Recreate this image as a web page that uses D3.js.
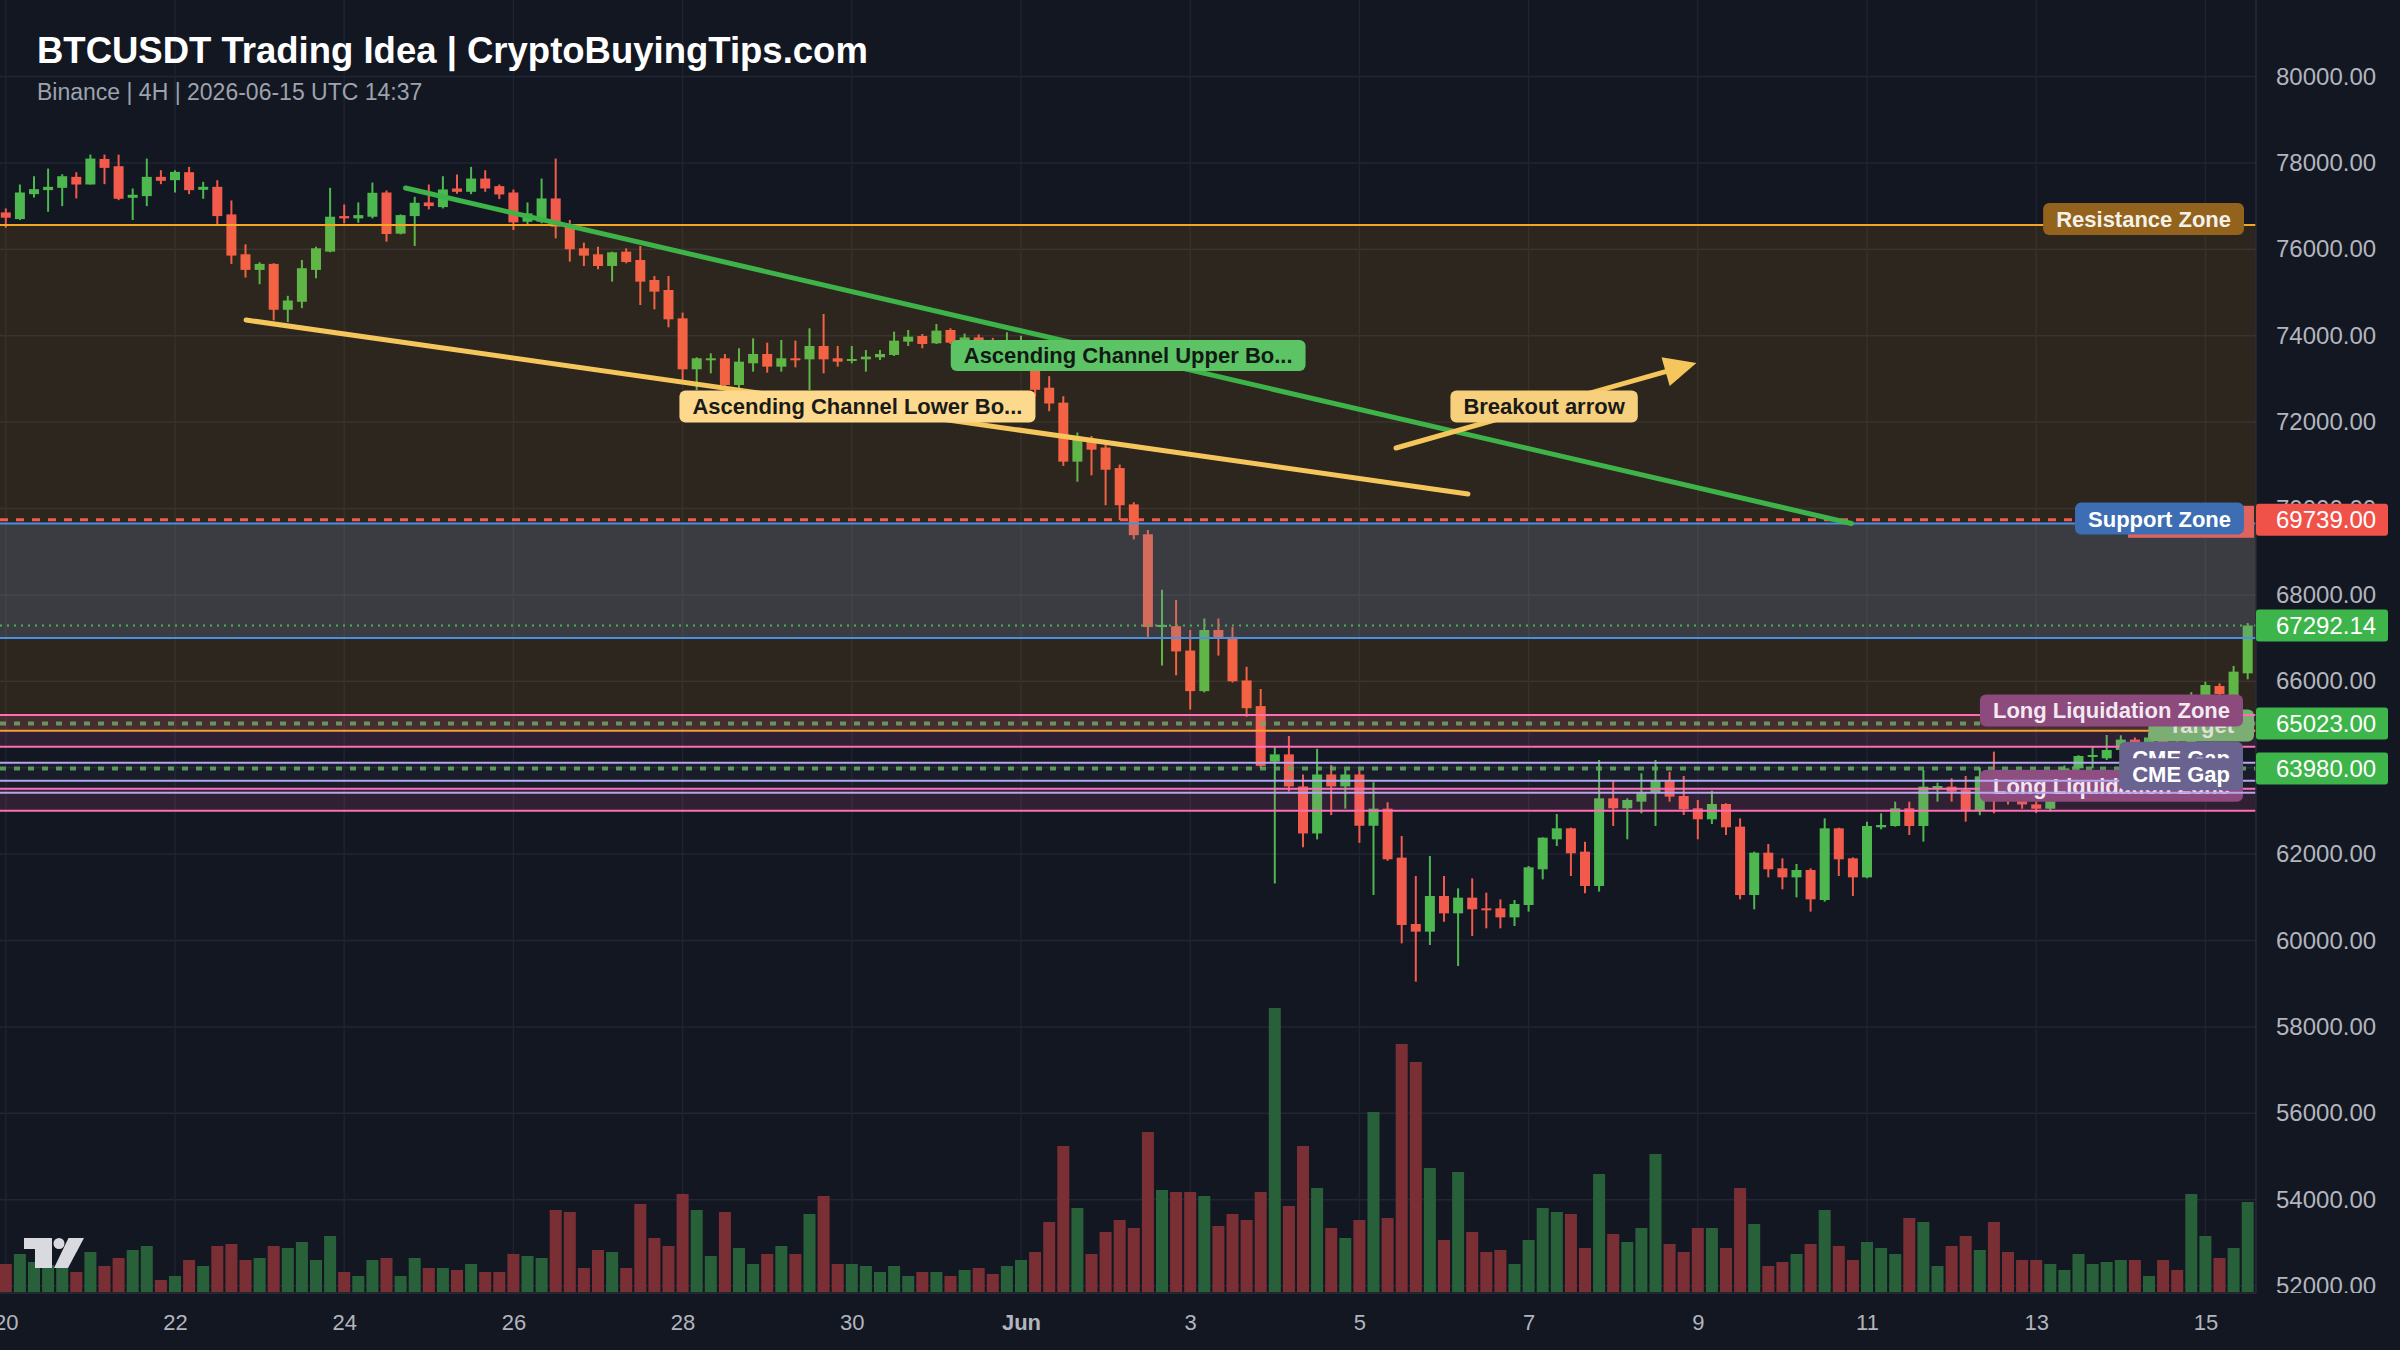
<!DOCTYPE html>
<html><head><meta charset="utf-8">
<script src="https://cdn.jsdelivr.net/npm/d3@7"></script>
<style>html,body{margin:0;padding:0;background:#131722;overflow:hidden}svg{display:block}</style>
</head><body><svg id="c" width="2400" height="1350"></svg>
<script>
// ---------------- DATA ----------------
const startTime = Date.UTC(2026, 4, 20, 0, 0); // first 4H candle, May 20 00:00 UTC
const opens  = [76854,76700,77277,77370,77423,77677,77500,78092,77923,77192,77231,77677,77600,77785,77377,77446,76808,75885,75523,75662,74600,74785,75523,75946,76769,76715,76754,77315,76362,76769,77085,76977,77408,77331,77638,77462,77315,76638,76638,77177,76540,76023,75884,75614,75946,75753,75290,75058,74402,73222,73438,73477,72859,73361,73577,73283,73477,73453,73762,73477,73422,73453,73500,73554,73862,73993,73824,74132,73839,73960,73880,73600,73750,73800,72796,72450,71085,71580,71411,70936,70096,69403,67256,67276,66712,65772,67187,67029,66020,65426,64140,64308,63566,62478,63843,63566,63843,62656,63052,61918,60382,60205,61030,60629,60992,60745,60745,60536,60822,61648,62342,62597,62057,61262,63291,63060,63214,63422,63715,63345,63060,62805,63160,62635,61053,62033,61671,61462,61632,60937,62597,61902,61462,62620,62651,63060,62651,63523,63561,63484,63021,63800,63400,63250,63150,63050,63400,63985,64256,64217,64410,64650,64500,64700,64550,64400,65683,65891,65683,66185];
const highs  = [76946,77500,77692,77869,77738,77785,78192,78192,78192,77408,78100,77831,77831,77908,77562,77600,77131,76115,75700,75677,74923,75754,76060,77423,77038,77085,77546,77362,76808,77215,77500,77692,77731,77908,77831,77500,77385,77085,77638,78100,76679,76154,76061,75946,76023,76077,75382,75382,74534,73500,73592,73577,73708,73939,73839,73901,73885,74171,74503,73762,73762,73669,73669,74094,74132,74040,74271,74171,74050,74030,73950,74080,74000,73850,73064,72599,71758,71679,71481,71016,70145,69502,68117,67880,67187,67454,67454,67256,66336,65822,64486,64734,63843,64437,64061,63942,63942,63665,63200,62419,61493,61956,61493,61208,61439,61107,60953,60937,61725,62388,62928,62612,62288,64178,63715,63291,63870,64178,63908,63808,63253,63468,63175,62828,62056,62234,61902,61771,61671,62828,62612,61925,62751,62944,63214,63214,63947,63654,63754,63808,64000,64371,63600,63450,63350,63500,64050,64290,64487,64757,64750,64700,64800,64750,64650,65750,65992,65953,66354,67350];
const lows   = [76500,76677,77200,76869,77000,77177,77500,77508,77138,76677,77000,77508,77315,77277,77169,76538,75662,75346,75192,74354,74315,74638,75331,75931,76600,76615,76715,76177,76346,76077,76923,76946,77285,77277,77331,77162,76446,76562,76600,76254,75714,75614,75537,75251,75676,74711,74611,74194,72975,72743,73129,72743,72743,73168,73145,73168,73268,72743,73129,73283,73361,73168,73438,73530,73762,73708,73808,73808,73760,73780,73500,73550,73650,72600,72252,70986,70620,70768,70076,69730,69284,67009,66366,66138,65347,65743,66594,65970,65179,63992,61320,63448,62161,62340,62903,63052,62260,61053,61845,59934,59047,59896,60436,59410,60104,60282,60282,60336,60668,61416,62188,61493,61092,61131,62651,62342,62944,62651,63214,62905,62342,62697,62442,60953,60721,61462,61185,60999,60668,60899,61493,61030,61439,62573,62635,62442,62288,63214,63214,62751,62900,62944,63150,63050,62950,62980,63350,63900,63985,64178,64350,64400,64450,64450,64300,64300,65644,65644,65644,66046];
const closes = [76731,77315,77392,77446,77692,77500,78100,77885,77169,77262,77677,77585,77792,77369,77446,76769,75854,75523,75662,74600,74815,75562,76023,76754,76715,76792,77308,76354,76792,77077,77000,77385,77331,77638,77408,77269,76623,76831,77177,76523,75999,75853,75614,75930,75706,75251,75020,74379,73222,73477,73477,72859,73399,73577,73283,73477,73438,73762,73453,73399,73461,73515,73577,73885,73978,73808,74117,73839,73960,73880,73600,73750,73800,72747,72430,71085,71609,71362,70897,70076,69383,67256,67306,66692,65772,67187,67009,66000,65377,64041,64308,63566,62478,63843,63566,63843,62656,63052,61879,60359,60205,61030,60629,60992,60722,60706,60536,60845,61694,62381,62597,62018,61262,63291,63060,63253,63422,63715,63330,63036,62805,63160,62620,61053,62033,61648,61462,61632,60953,62597,61879,61462,62651,62674,63060,62651,63561,63576,63445,63021,63800,63400,63250,63150,63050,63400,63985,64271,64294,64410,64650,64500,64700,64550,64400,65650,65914,65706,66223,67292.14];
const volumes = [700,950,750,675,600,500,1000,650,850,1050,1150,300,400,800,650,1150,1200,800,850,1150,1100,1250,800,1400,500,400,800,850,400,850,600,600,550,700,500,500,950,900,850,2050,2000,600,1050,1000,600,2200,1350,1150,2450,2050,900,2000,1100,700,950,1150,950,1950,2400,700,700,650,500,650,400,500,500,400,550,600,450,650,800,1000,1750,3650,2100,950,1500,1800,1600,4000,2550,2500,2500,2400,1650,1950,1800,2500,7100,2150,3650,2600,1600,1350,1800,4500,1850,6200,5750,3100,1300,3000,1500,1000,1050,700,1300,2100,2000,1950,1100,2950,1450,1250,1600,3450,1200,1000,1600,1600,1100,2600,1700,650,750,950,1200,2050,1150,800,1250,1100,950,1850,1750,650,1150,1400,1050,1750,1000,800,800,700,550,950,700,750,800,800,400,800,550,2450,1400,850,1100,2250];

const priceTicks = [52000,54000,56000,58000,60000,62000,64000,66000,68000,70000,72000,74000,76000,78000,80000];
const dateTicks = [[4,20],[4,22],[4,24],[4,26],[4,28],[4,30],[5,1],[5,3],[5,5],[5,7],[5,9],[5,11],[5,13],[5,15]].map(([m,d]) => new Date(Date.UTC(2026, m, d)));
const monthNames = ['Jan','Feb','Mar','Apr','May','Jun','Jul','Aug','Sep','Oct','Nov','Dec'];

// zones [low, high]
const resistanceZone = [64857, 76560];
const supportZone    = [67000, 69650];
const llzUpper       = [64487, 65220];
const llzLower       = [63005, 63515];
const cmeGapUpper    = [63700, 64116];
const cmeGapLower    = [63422, 63700];
const stopLevel = 69739, lastPrice = 67292.14, targetLevel = 65023, level2 = 63980;
// drawings: [candle index, price]
const upperChannel  = [[28.35, 77419], [130.9, 69653]];
const lowerChannel  = [[17.04, 74363], [103.7, 70336]];
const breakoutArrow = [[98.6, 71400], [119.9, 73370]];

// ---------------- CHART ----------------
const W = 2400, H = 1350, plotR = 2256, plotB = 1293;
const FONT = '"Liberation Sans", Arial, Helvetica, sans-serif';
const GREEN = '#4cb84f', RED = '#f25a4b';
const svg = d3.select('#c');
svg.append('rect').attr('width', W).attr('height', H).attr('fill', '#131722');

const defs = svg.append('defs');
defs.append('clipPath').attr('id', 'plotClip').append('rect').attr('x', 0).attr('y', 0).attr('width', plotR).attr('height', plotB);
defs.append('clipPath').attr('id', 'axisClip').append('rect').attr('x', plotR).attr('y', 0).attr('width', W - plotR).attr('height', plotB);

const x = d3.scaleUtc().domain([new Date(startTime), new Date(Date.UTC(2026, 5, 15))]).range([5.8, 2205.4]);
const xi = i => x(new Date(startTime + i * 4 * 3600e3));
const y = d3.scaleLinear().domain([52000, 80000]).range([1286.1, 76.5]);
const yv = d3.scaleLinear().domain([0, 10000]).range([1292, 892]);

const plot = svg.append('g').attr('clip-path', 'url(#plotClip)');

// grid
plot.append('g').selectAll('line').data(priceTicks).join('line')
  .attr('x1', 0).attr('x2', plotR).attr('y1', d => y(d)).attr('y2', d => y(d))
  .attr('stroke', '#222634').attr('stroke-width', 1.5);
plot.append('g').selectAll('line').data(dateTicks).join('line')
  .attr('x1', d => x(d)).attr('x2', d => x(d)).attr('y1', 0).attr('y2', plotB)
  .attr('stroke', '#1f2330').attr('stroke-width', 1.5);

// volume
plot.append('g').selectAll('rect').data(volumes).join('rect')
  .attr('x', (d, i) => xi(i) - 6).attr('width', 12)
  .attr('y', d => yv(d)).attr('height', d => yv(0) - yv(d))
  .attr('fill', (d, i) => closes[i] >= opens[i] ? '#28603a' : '#7a2f34');

// candles
const cg = plot.append('g');
opens.forEach((o, i) => {
  const c = closes[i], up = c >= o, col = up ? GREEN : RED, cx = xi(i);
  cg.append('line').attr('x1', cx).attr('x2', cx).attr('y1', y(highs[i])).attr('y2', y(lows[i]))
    .attr('stroke', col).attr('stroke-width', 2);
  const top = y(Math.max(o, c)), bot = y(Math.min(o, c));
  cg.append('rect').attr('x', cx - 5).attr('width', 10).attr('y', top).attr('height', Math.max(2, bot - top)).attr('fill', col);
});

// helpers
function hline(g, p, color, width, dash) {
  const l = g.append('line').attr('x1', 0).attr('x2', plotR).attr('y1', y(p)).attr('y2', y(p))
    .attr('stroke', color).attr('stroke-width', width);
  if (dash) l.attr('stroke-dasharray', dash);
  return l;
}
function zoneFill(g, z, color, op) {
  g.append('rect').attr('x', 0).attr('width', plotR).attr('y', y(z[1])).attr('height', y(z[0]) - y(z[1]))
    .attr('fill', color).attr('fill-opacity', op);
}
function pill(g, text, o) {
  const gg = g.append('g');
  const r = gg.append('rect');
  const pad = o.pad || 13;
  const t = gg.append('text').text(text).attr('font-family', FONT).attr('font-size', o.size || 22)
    .attr('font-weight', 'bold').attr('fill', o.color).attr('dy', '0.36em');
  const w = t.node().getComputedTextLength() + 2 * pad;
  const h = o.h || 32;
  const left = o.right !== undefined ? o.right - w : o.cx - w / 2;
  r.attr('x', left).attr('y', o.cy - h / 2).attr('width', w).attr('height', h).attr('rx', 6).attr('fill', o.fill);
  t.attr('x', left + pad).attr('y', o.cy);
  return gg;
}

const ann = plot.append('g');
// resistance zone
zoneFill(ann, resistanceZone, '#ffa500', 0.11);
hline(ann, resistanceZone[1], '#f5a623', 2);
hline(ann, resistanceZone[0], '#f5a623', 2);
pill(ann, 'Resistance Zone', {right: 2244, cy: y(resistanceZone[1]) - 6, fill: '#93621c', color: '#f4f1ea'});
// support zone
zoneFill(ann, supportZone, '#6e8cbe', 0.22);
hline(ann, supportZone[1], '#4a90e2', 2);
hline(ann, supportZone[0], '#4a90e2', 2);
hline(ann, stopLevel, RED, 3, '8,8');
ann.append('rect').attr('x', 2128).attr('width', 126).attr('y', y(stopLevel) - 14).attr('height', 32).attr('fill', '#e0645d');
pill(ann, 'Support Zone', {right: 2244, cy: y(supportZone[1]) - 5, fill: '#3d6db3', color: '#ffffff'});
// current price
hline(ann, lastPrice, '#4caf50', 2, '2,5');
// target levels
hline(ann, targetLevel, '#5fae5f', 4, '6,8').attr('stroke-opacity', 0.85);
hline(ann, level2, '#5fae5f', 4, '6,8').attr('stroke-opacity', 0.85);
pill(ann, 'Target', {right: 2254, cy: y(targetLevel) + 2, fill: '#68b86a', color: '#dff0df', pad: 20});
// long liquidation zones
zoneFill(ann, llzUpper, '#ff69b4', 0.12);
hline(ann, llzUpper[1], '#ff6eb4', 2);
hline(ann, llzUpper[0], '#ff6eb4', 2);
pill(ann, 'Long Liquidation Zone', {right: 2243, cy: y(llzUpper[1]) - 4.5, fill: '#8d4a7c', color: '#f3e9f1'});
zoneFill(ann, llzLower, '#ff69b4', 0.12);
hline(ann, llzLower[1], '#ff6eb4', 2);
hline(ann, llzLower[0], '#ff6eb4', 2);
pill(ann, 'Long Liquidation Zone', {right: 2243, cy: y(llzLower[1]) - 3, fill: '#8d4a7c', color: '#f3e9f1'});
// CME gaps
zoneFill(ann, cmeGapUpper, '#b9a8f0', 0.04);
hline(ann, cmeGapUpper[1], '#b7a6ee', 2);
hline(ann, cmeGapUpper[0], '#b7a6ee', 2);
pill(ann, 'CME Gap', {right: 2243, cy: y(cmeGapUpper[1]) - 5, fill: '#6a6390', color: '#ffffff'});
zoneFill(ann, cmeGapLower, '#b9a8f0', 0.04);
hline(ann, cmeGapLower[0], '#b7a6ee', 2);
pill(ann, 'CME Gap', {right: 2243, cy: y(cmeGapLower[1]) - 6.5, fill: '#6a6390', color: '#ffffff'});

// trend lines
const lineGen = d3.line().x(d => xi(d[0])).y(d => y(d[1]));
ann.append('path').attr('d', lineGen(upperChannel)).attr('stroke', '#3db34a').attr('stroke-width', 5)
  .attr('stroke-linecap', 'round').attr('fill', 'none');
ann.append('path').attr('d', lineGen(lowerChannel)).attr('stroke', '#f5c65c').attr('stroke-width', 5)
  .attr('stroke-linecap', 'round').attr('fill', 'none');
// breakout arrow
{
  const [a, b] = breakoutArrow;
  const x1 = xi(a[0]), y1 = y(a[1]), x2 = xi(b[0]), y2 = y(b[1]);
  const ang = Math.atan2(y2 - y1, x2 - x1), L = 32, Wd = 15;
  const bx = x2 - L * Math.cos(ang), by = y2 - L * Math.sin(ang);
  ann.append('line').attr('x1', x1).attr('y1', y1).attr('x2', bx).attr('y2', by)
    .attr('stroke', '#f5c65c').attr('stroke-width', 5).attr('stroke-linecap', 'round');
  const px = -Math.sin(ang), py = Math.cos(ang);
  ann.append('path').attr('d', `M${x2},${y2}L${bx + px * Wd},${by + py * Wd}L${bx - px * Wd},${by - py * Wd}Z`).attr('fill', '#f5c65c');
}
pill(ann, 'Ascending Channel Upper Bo...', {cx: xi(79.6), cy: y(73542), fill: '#5dc466', color: '#111a14', h: 31});
pill(ann, 'Ascending Channel Lower Bo...', {cx: xi(60.4), cy: y(72361), fill: '#fcd98c', color: '#1a1a1a', h: 32});
pill(ann, 'Breakout arrow', {cx: xi(109.1), cy: y(72361), fill: '#f6d07c', color: '#1a1a1a', h: 32});

// separators
svg.append('line').attr('x1', plotR).attr('x2', plotR).attr('y1', 0).attr('y2', plotB).attr('stroke', '#2a2e39').attr('stroke-width', 1.5);
svg.append('line').attr('x1', 0).attr('x2', plotR).attr('y1', plotB).attr('y2', plotB).attr('stroke', '#2a2e39').attr('stroke-width', 1.5);

// price axis
const axG = svg.append('g').attr('clip-path', 'url(#axisClip)');
const ay = axG.append('g').attr('transform', `translate(${plotR},0)`)
  .call(d3.axisRight(y).tickValues(priceTicks).tickFormat(d3.format('.2f')).tickSize(0).tickPadding(20));
ay.select('.domain').remove();
ay.selectAll('text').attr('font-family', FONT).attr('font-size', 24).attr('fill', '#b2b5be');

const priceTags = [[stopLevel, '#f0524a', '69739.00'], [lastPrice, '#3db54a', '67292.14'], [targetLevel, '#3db54a', '65023.00'], [level2, '#3db54a', '63980.00']];
priceTags.forEach(([p, col, txt]) => {
  axG.append('rect').attr('x', plotR).attr('y', y(p) - 16).attr('width', 132).attr('height', 32).attr('rx', 3).attr('fill', col);
  axG.append('text').attr('x', plotR + 20).attr('y', y(p)).attr('dy', '0.36em').text(txt)
    .attr('font-family', FONT).attr('font-size', 24).attr('fill', '#ffffff');
});

// time axis
const ax = svg.append('g').attr('transform', `translate(0,${plotB})`)
  .call(d3.axisBottom(x).tickValues(dateTicks).tickSize(0)
    .tickFormat(d => d.getUTCDate() === 1 ? monthNames[d.getUTCMonth()] : String(d.getUTCDate())));
ax.select('.domain').remove();
ax.selectAll('text').attr('y', 29).attr('dy', '0.36em').attr('font-family', FONT).attr('font-size', 22)
  .attr('fill', '#b2b5be').attr('font-weight', d => d.getUTCDate() === 1 ? 'bold' : 'normal');

// title
svg.append('text').attr('x', 37).attr('y', 63).text('BTCUSDT Trading Idea | CryptoBuyingTips.com')
  .attr('font-family', FONT).attr('font-size', 36.5).attr('font-weight', 'bold').attr('fill', '#ffffff');
svg.append('text').attr('x', 37).attr('y', 100).text('Binance | 4H | 2026-06-15 UTC 14:37')
  .attr('font-family', FONT).attr('font-size', 23).attr('fill', '#9ca3ae');

// logo
const lg = svg.append('g').attr('fill', '#d8dae0');
lg.append('path').attr('d', 'M24,1238H52V1268H35V1249H24Z');
lg.append('circle').attr('cx', 59).attr('cy', 1243.5).attr('r', 5.5);
lg.append('path').attr('d', 'M68.5,1238H84L68,1268H54Z');
</script></body></html>
